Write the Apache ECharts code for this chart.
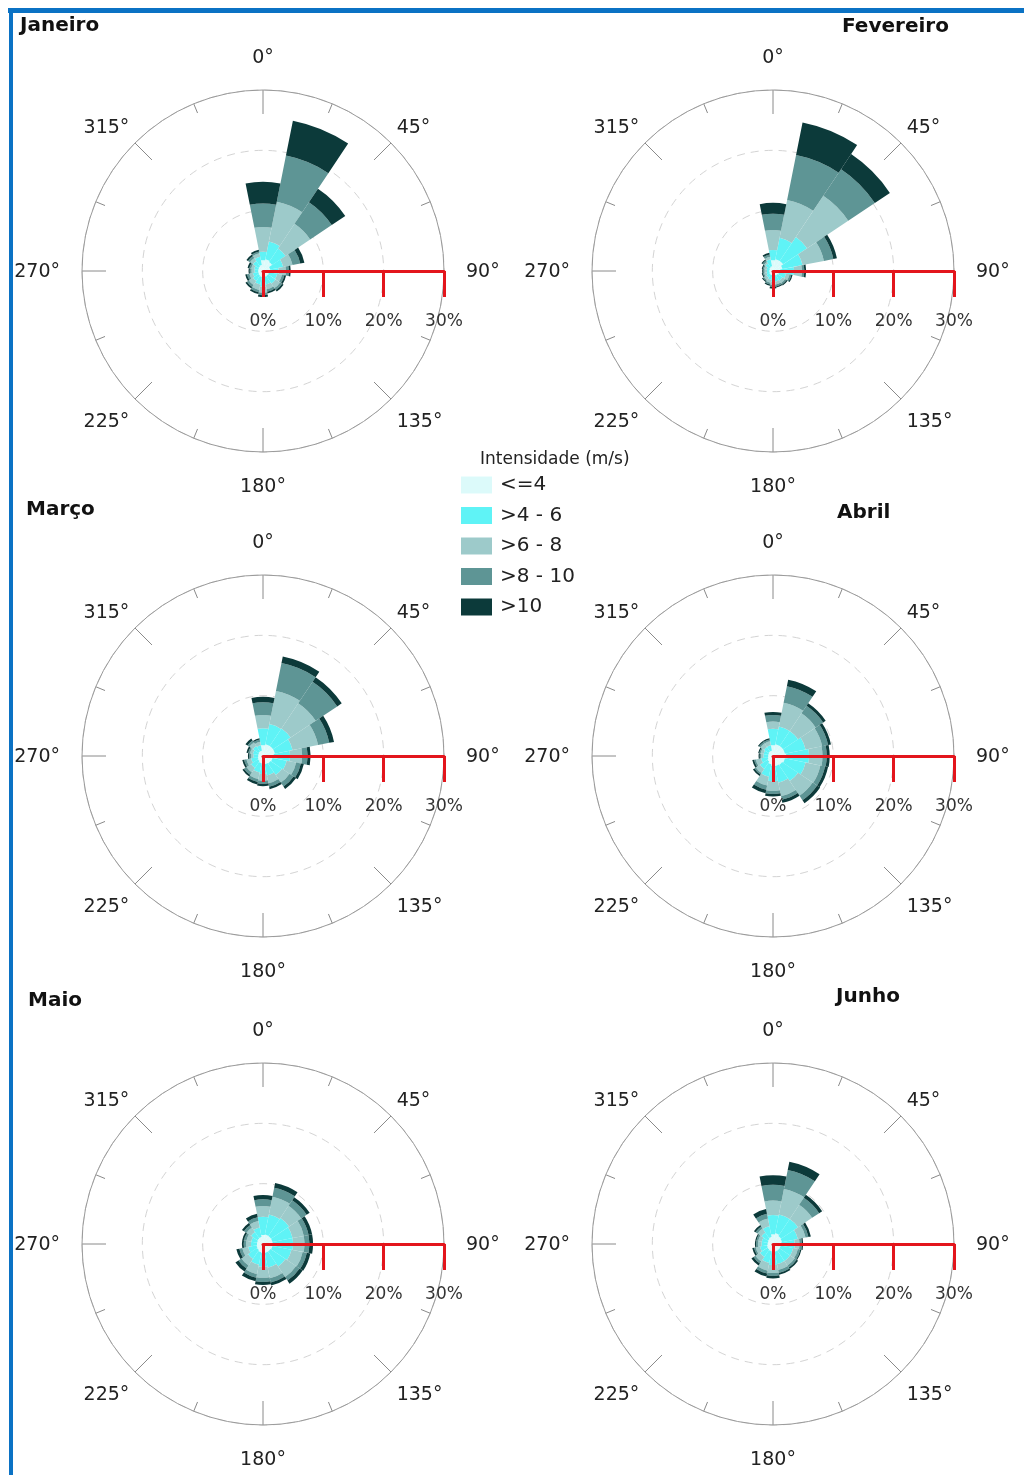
<!DOCTYPE html>
<html>
<head>
<meta charset="utf-8">
<script src="https://cdn.jsdelivr.net/npm/echarts@6/dist/echarts.min.js"></script>
<style>
html,body{margin:0;padding:0;background:#fff;}
#chart{position:absolute;left:0;top:0;width:1024px;height:1475px;}
#frameTop{position:absolute;left:8px;top:8px;width:1016px;height:5px;background:#0b72c4;}
#frameLeft{position:absolute;left:9px;top:8px;width:4px;height:1467px;background:#0b72c4;}
</style>
</head>
<body>
<div id="chart"></div>
<div id="frameTop"></div>
<div id="frameLeft"></div>
<script>
// Directions (16 sectors, clockwise from North)
const directions = ['N','NNE','NE','ENE','E','ESE','SE','SSE','S','SSW','SW','WSW','W','WNW','NW','NNW'];
// Speed classes
const binNames = ['<=4', '>4 - 6', '>6 - 8', '>8 - 10', '>10'];
const binColors = ['#dcfafa', '#5ff3f6', '#9dcaca', '#5e9595', '#0c3a3a'];
const monthNames = ['Janeiro', 'Fevereiro', 'Março', 'Abril', 'Maio', 'Junho'];
// Direction tick labels (degrees)
const angleTicks = [0, 45, 90, 135, 180, 225, 270, 315];
// Radius tick labels (%)
const radiusTicks = [0, 10, 20, 30];

// Frequencies (%) per direction for each speed class: rows = binNames
const janeiro = [
  [1.8,2.0,1.8,1.2,1.2,1.0,1.0,1.0,1.0,1.0,0.9,0.8,0.8,0.8,0.9,1.0],
  [1.4,3.0,2.7,2.2,1.4,1.4,1.5,1.3,1.6,1.3,1.1,0.9,0.6,0.7,1.1,1.4],
  [4.1,6.7,4.9,1.6,1.2,0.8,0.9,0.8,1.0,0.9,0.8,0.6,0.5,0.5,0.6,0.6],
  [3.9,7.8,4.3,1.3,0.5,0.4,0.4,0.4,0.4,0.4,0.4,0.4,0.3,0.3,0.4,0.3],
  [3.6,5.9,2.7,0.7,0.3,0.3,0.3,0.3,0.3,0.3,0.3,0.3,0.2,0.3,0.3,0.3]
];
const fevereiro = [
  [1.8,2.0,2.0,1.6,1.2,1.0,0.9,0.8,0.8,0.7,0.7,0.6,0.6,0.6,0.7,0.8],
  [1.7,3.6,4.8,3.4,2.3,1.2,1.0,1.0,1.0,0.8,0.6,0.5,0.4,0.5,0.8,1.2],
  [3.3,6.4,8.2,3.6,1.3,0.6,0.5,0.5,0.5,0.5,0.5,0.4,0.4,0.4,0.3,0.4],
  [2.7,7.6,5.3,1.6,0.4,0.3,0.3,0.3,0.3,0.3,0.2,0.2,0.2,0.2,0.3,0.4],
  [1.8,5.5,3.0,0.6,0.3,0.2,0.2,0.2,0.3,0.2,0.2,0.2,0.2,0.2,0.2,0.3]
];
const marco = [
  [1.8,2.0,2.0,2.0,1.8,1.6,1.5,1.4,1.3,1.2,1.0,0.9,0.8,0.8,0.9,0.9],
  [2.8,3.4,3.5,3.0,2.7,2.4,2.3,1.9,1.7,1.6,1.4,1.1,0.8,0.9,1.1,0.9],
  [2.2,5.6,5.0,4.3,2.0,1.6,1.5,1.3,1.1,1.1,0.9,0.8,0.4,0.5,0.7,0.6],
  [2.1,4.7,4.3,1.9,0.9,0.8,0.8,0.6,0.5,0.5,0.5,0.4,0.3,0.3,0.4,0.4],
  [0.9,1.1,0.9,0.8,0.5,0.5,0.5,0.4,0.4,0.4,0.3,0.3,0.2,0.3,0.4,0.2]
];
const abril = [
  [1.8,2.0,2.0,2.0,2.2,2.0,1.8,1.7,1.6,1.4,1.1,0.9,0.8,0.8,0.9,0.9],
  [2.7,3.0,3.0,3.5,3.8,3.5,3.2,2.8,2.6,2.1,1.5,1.1,0.8,0.8,0.9,0.9],
  [1.2,4.0,3.5,2.8,2.2,2.5,2.9,2.3,1.6,1.5,0.8,0.9,0.4,0.5,0.7,0.7],
  [1.1,2.8,1.5,1.0,0.7,0.8,0.9,0.6,0.5,0.7,0.3,0.3,0.2,0.2,0.3,0.3],
  [0.5,1.1,0.5,0.5,0.5,0.5,0.6,0.5,0.4,0.6,0.3,0.3,0.2,0.2,0.2,0.2]
];
const maio = [
  [1.5,1.6,1.6,1.6,1.6,1.6,1.5,1.5,1.5,1.4,1.2,1.1,1.0,1.0,1.1,1.2],
  [3.0,3.4,3.6,3.4,3.4,3.2,3.0,2.5,2.3,2.1,1.8,1.4,1.0,1.0,1.3,1.6],
  [1.8,3.0,2.4,1.9,1.9,1.9,2.1,1.8,1.8,1.6,1.3,1.0,0.8,0.8,0.9,1.1],
  [1.1,1.5,1.1,0.8,0.8,0.7,0.7,0.7,0.7,0.6,0.6,0.5,0.4,0.4,0.5,0.6],
  [0.7,0.8,0.6,0.6,0.6,0.6,0.6,0.5,0.5,0.6,0.6,0.5,0.3,0.3,0.4,0.6]
];
const junho = [
  [1.6,1.8,1.6,1.5,1.4,1.3,1.3,1.3,1.3,1.2,1.1,1.0,0.9,0.9,1.0,1.2],
  [3.2,3.2,3.4,2.7,2.2,2.1,2.1,2.1,2.2,2.0,1.5,1.2,1.0,1.0,1.3,1.8],
  [2.4,4.3,2.8,1.3,0.8,0.8,0.9,1.0,1.3,1.3,0.9,0.7,0.6,0.6,0.8,1.3],
  [2.6,3.2,1.4,0.5,0.4,0.4,0.4,0.5,0.5,0.5,0.4,0.3,0.3,0.3,0.4,0.8],
  [1.6,1.4,0.6,0.4,0.2,0.2,0.3,0.3,0.4,0.5,0.4,0.3,0.2,0.2,0.3,0.8]
];
const monthData = [janeiro, fevereiro, marco, abril, maio, junho];

// ---------- layout ----------
const FONT = 'DejaVu Sans';
const centers = [[263,271],[773,271],[263,756],[773,756],[263,1244],[773,1244]];
const R = 181;
const titlePos = [[20,16],[842,17],[26,500],[837,503],[28,991],[836,987]];
const lblBase = {fontSize: 19, fontFamily: FONT, color: '#222'};
const PADC = 14;

const polar = [], angleAxis = [], radiusAxis = [], grid = [], xAxis = [], yAxis = [], series = [], title = [];

centers.forEach(function (c, k) {
  // display polar: circle, ticks, degree labels, dashed rings
  polar.push({center: [c[0], c[1]], radius: R});
  angleAxis.push({
    polarIndex: 2*k, type: 'value', min: 0, max: 360, interval: 45,
    startAngle: 90, clockwise: true, z: 3,
    axisLine: {show: true, lineStyle: {color: '#9a9a9a', width: 1}},
    axisTick: {show: true, inside: true, length: 24, lineStyle: {color: '#8a8a8a', width: 1}},
    minorTick: {show: true, splitNumber: 2, length: 10, lineStyle: {color: '#8a8a8a', width: 1}},
    axisLabel: {show: true, margin: 8, fontSize: 19, fontFamily: FONT, color: '#222',
      formatter: function (v) {
        if (angleTicks.indexOf(v) < 0) return '';
        if (v === 0) return '{n|' + v + '°}';
        if (v === 90) return '{e|' + v + '°}';
        if (v === 180) return '{s|' + v + '°}';
        if (v === 270) return '{w|' + v + '°}';
        if (v === 135 || v === 225) return '{d|' + v + '°}';
        return v + '°';
      },
      rich: {
        n: Object.assign({padding: [0, 0, PADC, 0]}, lblBase),
        e: Object.assign({padding: [2, 0, 0, PADC]}, lblBase),
        s: Object.assign({padding: [PADC + 4, 0, 0, 0]}, lblBase),
        w: Object.assign({padding: [2, PADC, 0, 0]}, lblBase),
        d: Object.assign({padding: [8, 0, 0, 0]}, lblBase)
      }},
    splitLine: {show: false}
  });
  radiusAxis.push({
    polarIndex: 2*k, type: 'value', min: radiusTicks[0], max: radiusTicks[radiusTicks.length-1], interval: 10, z: 1,
    axisLine: {show: false}, axisTick: {show: false}, axisLabel: {show: false},
    splitLine: {show: true, lineStyle: {color: '#d4d4d4', type: [8, 6], width: 1}}
  });
  // data polar
  polar.push({center: [c[0], c[1]], radius: R});
  angleAxis.push({
    polarIndex: 2*k+1, type: 'category', data: directions,
    startAngle: 90 + 360/directions.length/2, clockwise: true,
    axisLine: {show: false}, axisTick: {show: false}, axisLabel: {show: false}, splitLine: {show: false}
  });
  radiusAxis.push({
    polarIndex: 2*k+1, type: 'value', min: 0, max: 30,
    axisLine: {show: false}, axisTick: {show: false}, axisLabel: {show: false}, splitLine: {show: false}
  });
  // red scale bar (cartesian axis from centre to the right)
  grid.push({left: c[0], top: c[1] - 40, width: R, height: 40});
  xAxis.push({
    gridIndex: k, type: 'value', min: radiusTicks[0], max: radiusTicks[radiusTicks.length-1], interval: 10,
    position: 'bottom', z: 10,
    axisLine: {show: true, lineStyle: {color: '#e3151c', width: 3}},
    axisTick: {show: true, length: 26, lineStyle: {color: '#e3151c', width: 3}},
    axisLabel: {show: true, margin: 42, fontSize: 17, fontFamily: FONT, color: '#333',
      formatter: '{value}%'},
    splitLine: {show: false}
  });
  yAxis.push({gridIndex: k, type: 'value', show: false});

  monthData[k].forEach(function (vals, b) {
    series.push({
      type: 'bar', coordinateSystem: 'polar', polarIndex: 2*k+1,
      name: binNames[b], stack: 'rose' + k, data: vals,
      barCategoryGap: '0%', z: 2,
      itemStyle: {color: binColors[b]},
      emphasis: {disabled: true}, silent: true
    });
  });

  title.push({
    text: monthNames[k], left: titlePos[k][0], top: titlePos[k][1], padding: 0,
    textStyle: {fontFamily: FONT, fontSize: 20, fontWeight: 'bold', color: '#111'}
  });
});

title.push({
  text: 'Intensidade (m/s)', left: 480, top: 451, padding: 0,
  textStyle: {fontFamily: FONT, fontSize: 17, fontWeight: 'normal', color: '#222'}
});

const chart = echarts.init(document.getElementById('chart'), null, {renderer: 'canvas'});
chart.setOption({
  animation: false,
  backgroundColor: '#ffffff',
  title: title,
  legend: {
    data: binNames, orient: 'vertical', left: 461, top: 475,
    itemWidth: 31, itemHeight: 17, itemGap: 10.5, icon: 'rect', padding: 0,
    selectedMode: false,
    textStyle: {fontFamily: FONT, fontSize: 20, color: '#222', padding: [0, 0, 0, 3]}
  },
  polar: polar, angleAxis: angleAxis, radiusAxis: radiusAxis,
  grid: grid, xAxis: xAxis, yAxis: yAxis,
  series: series
});
</script>
</body>
</html>
